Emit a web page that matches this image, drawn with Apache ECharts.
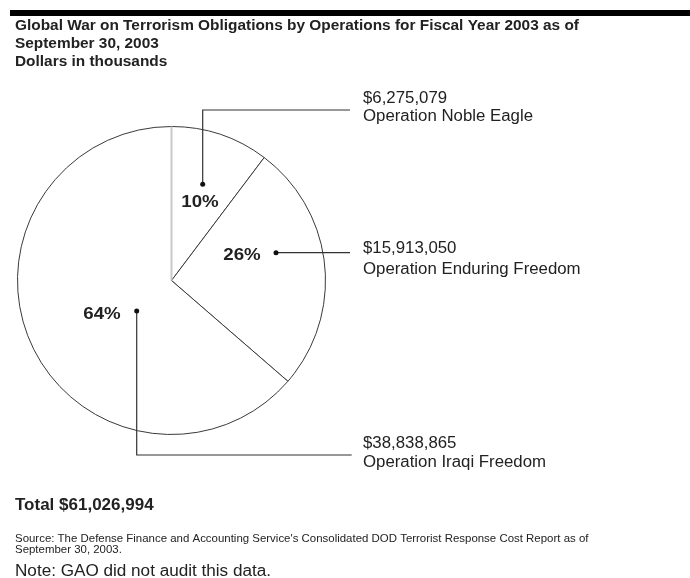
<!DOCTYPE html>
<html>
<head>
<meta charset="utf-8">
<script src="https://cdn.jsdelivr.net/npm/echarts@6/dist/echarts.min.js"></script>
<style>
  html, body { margin: 0; padding: 0; background: #fff; }
  #chart { width: 690px; height: 578px; }
</style>
</head>
<body>
<div id="chart"></div>
<script>
// Obligations by operation, dollars in thousands
const operations = ['Operation Noble Eagle', 'Operation Enduring Freedom', 'Operation Iraqi Freedom'];
const obligations = [6275079, 15913050, 38838865];

const titleLines = [
  'Global War on Terrorism Obligations by Operations for Fiscal Year 2003 as of',
  'September 30, 2003',
  'Dollars in thousands'
];
const sourceLines = [
  "Source: The Defense Finance and Accounting Service's Consolidated DOD Terrorist Response Cost Report as of",
  'September 30, 2003.'
];
const noteText = 'Note: GAO did not audit this data.';

// Pie geometry
const CX = 171.5, CY = 280.5, R = 154;

// Callout layout for each slice: dot, elbow path, percent label and side text
const callouts = [
  { dot: [202.7, 184.3], path: [[202.7, 110], [350, 110]], pct: [200, 202], text: [363, 99, 117] },
  { dot: [276, 252.7], path: [[350, 252.7]], pct: [242, 255], text: [363, 249, 270] },
  { dot: [136.7, 311], path: [[136.7, 455], [351.7, 455]], pct: [102, 314], text: [363, 444, 463] }
];

const FONT = '"Liberation Sans", Arial, Helvetica, sans-serif';
const INK = '#222';
const total = obligations.reduce((a, b) => a + b, 0);
const money = v => '$' + v.toLocaleString('en-US');

// text element helper; the typeface here runs a little wide, hence the horizontal stretch
function label(x, y, text, font, stretch, align, z) {
  return { type: 'text', x, y, z: z || 1, scaleX: stretch || 1,
    style: { text, font, fill: INK, textAlign: align || 'left', textVerticalAlign: 'middle' } };
}

const graphics = [];
// heavy rule at the top
graphics.push({ type: 'rect', shape: { x: 10, y: 10, width: 690, height: 6 }, style: { fill: '#000' } });

titleLines.forEach((t, i) => {
  graphics.push(label(15, 26 + i * 18, t, 'bold 14px ' + FONT, 1.1));
});

// pale radius at 12 o'clock
graphics.push({ type: 'line', z: 10, shape: { x1: CX, y1: CY, x2: CX, y2: CY - R },
  style: { stroke: '#c8c8c8', lineWidth: 2 } });

obligations.forEach((v, i) => {
  const c = callouts[i];
  graphics.push({ type: 'polyline', z: 20, shape: { points: [c.dot].concat(c.path) },
    style: { stroke: '#333', lineWidth: 1.2, fill: null } });
  graphics.push({ type: 'circle', z: 21, shape: { cx: c.dot[0], cy: c.dot[1], r: 2.5 },
    style: { fill: '#111' } });
  graphics.push(label(c.pct[0], c.pct[1], Math.round(v / total * 100) + '%',
    'bold 17px ' + FONT, 1.1, 'center', 21));
  graphics.push(label(c.text[0], c.text[1], money(v), '16px ' + FONT, 1.05));
  graphics.push(label(c.text[0], c.text[2], operations[i], '16px ' + FONT, 1.05));
});

graphics.push(label(15, 505, 'Total ' + money(total), 'bold 17px ' + FONT, 1.0));
sourceLines.forEach((t, i) => {
  graphics.push(label(15, 539 + i * 11, t, '10.5px ' + FONT, 1.09));
});
graphics.push(label(15, 572, noteText, '16px ' + FONT, 1.07));

const chart = echarts.init(document.getElementById('chart'), null, { renderer: 'canvas' });
chart.setOption({
  animation: false,
  backgroundColor: '#fff',
  series: [{
    type: 'pie',
    center: [CX, CY],
    radius: [0, R],
    startAngle: 90,
    clockwise: true,
    silent: true,
    label: { show: false },
    labelLine: { show: false },
    itemStyle: { color: '#fff', borderColor: '#3a3a3a', borderWidth: 1 },
    data: operations.map((name, i) => ({ name, value: obligations[i] }))
  }],
  graphic: graphics
});
</script>
</body>
</html>
